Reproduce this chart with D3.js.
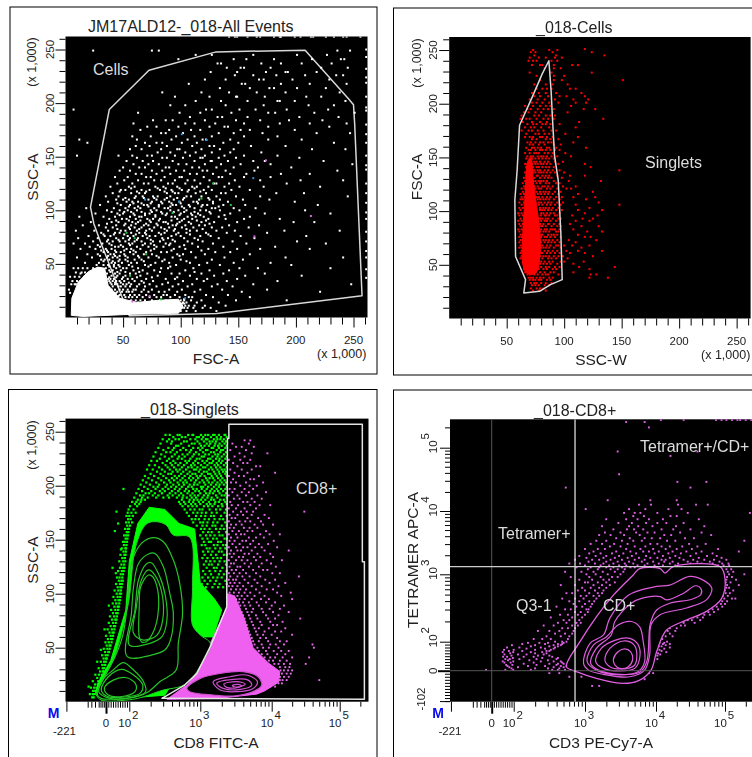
<!DOCTYPE html>
<html>
<head>
<meta charset="utf-8">
<script src="https://cdn.jsdelivr.net/npm/d3@7"></script>
<style>
  html, body { margin: 0; background: #fff; }
  svg { display: block; filter: blur(0.3px); }
  text { font-family: "Liberation Sans", Arial, sans-serif; fill: #222; }
</style>
</head>
<body>
<svg id="chart" width="752" height="757"></svg>
<script>
// tick labels
const linearLabels = [50, 100, 150, 200, 250];
const decadeLabels = [2, 3, 4, 5];

// gates, in axis units (thousands, or decades on the log panels)
const cellsGate = [[38,194],[72.5,230.6],[130.7,247.8],[208,249.4],[245.8,203.8],[250,198.4],[251,181],[257.4,20.3],[131.3,3.8],[55.4,1.6],[29.9,71.9],[24.6,87.5],[21.7,103]];
const singletsGate = [[86.7,240],[88.7,210.8],[89.6,190.7],[91.6,152],[94.8,128.9],[97.1,79.4],[98.3,36.2],[88.1,31.5],[78.6,25.3],[64.9,23.8],[66.4,36.2],[57.7,57.8],[57.1,110.4],[59.1,138.2],[61.2,179.9],[72.2,206.2],[80.9,227.8]];
const cd8Gate = [[3.4,256.8],[5.33,256.8],[5.33,129.6],[5.36,129.6],[5.36,2.2],[2.46,3.1],[2.78,15.4],[2.95,26],[3.14,51],[3.37,87.7],[3.38,243.8],[3.4,243.8]];
const tetramerLine = 3.12, cd3Line = 2.86;

// solid areas where the dots merge
const allEventsSolid = [[5,2],[5.5,18],[11,33],[20,43],[28,47],[34,46],[37,30],[47,18],[62,14],[80,16],[98,17],[102,10],[98,4],[58,3],[15,1]];
const cellsSolid = [[64.5,48],[64,80],[65.5,105],[66.5,125],[68,145],[71,150],[73,130],[76,105],[78.5,85],[79,60],[75,42],[68,42]];
const greenSolid = [[0.42,7],[0.58,18],[1.2,38],[1.85,85],[2,130],[2.12,165],[2.28,180],[2.5,178],[2.7,165],[2.92,160],[3,110],[3.2,95],[3.3,85],[3.18,60],[3,60],[2.5,6],[0.74,1.5]];
const pinkSolid = [[3.14,54],[3.37,87],[3.38,100],[3.48,98],[3.62,76],[3.74,50],[3.95,36],[4.12,28],[4.1,18],[3.9,10],[3.79,7],[3.23,3],[2.53,2.2],[2.81,15.4],[2.95,26],[3.04,38.5]];

// contours of the two lower panels
const greenOuter = [[0.49,6.2],[0.67,15.4],[1.31,38.6],[1.96,91],[2.09,143.5],[2.24,164.5],[2.38,166.7],[2.52,163.6],[2.62,154.3],[2.85,152.2],[2.89,106.5],[2.89,71],[3,61.7],[3.14,54],[3.02,35.5],[2.88,21.6],[2.74,14.5],[2.48,10.8],[2.2,4.6],[2.05,2.2],[0.74,1.5]];
const greenContours = [
  [[0.53,6.2],[0.81,20],[1.39,41.7],[1.74,63.3],[1.96,100.3],[2.03,128],[2.17,146.6],[2.34,151.9],[2.48,148.1],[2.62,131.2],[2.71,109.6],[2.75,81.8],[2.69,54],[2.66,29.3],[2.43,18.5],[2.27,9.3],[2.1,4.6],[0.74,3.1]],
  [[1.91,41.7],[2.03,81.8],[2.06,106.5],[2.13,128],[2.27,136.7],[2.36,137.3],[2.48,125],[2.57,100.3],[2.62,81.8],[2.58,57.1],[2.5,47.8],[2.31,43.2]],
  [[2,52.5],[2.08,84.9],[2.13,112.7],[2.24,127.5],[2.31,128.7],[2.43,115.7],[2.51,97.2],[2.53,75.6],[2.46,60.2],[2.29,54]],
  [[2.06,63.3],[2.1,88],[2.17,112.7],[2.27,122],[2.36,117.3],[2.46,100.3],[2.47,75.6],[2.39,61.7],[2.2,57.1]],
  [[2.14,60.2],[2.14,88],[2.16,106.5],[2.27,117.3],[2.33,115.7],[2.4,103.4],[2.41,84.9],[2.35,66.4],[2.24,55.6],[2.17,55.6]],
  [[0.6,9.3],[0.89,21.6],[1.31,29.3],[1.74,36.1],[2.06,29.3],[2.2,18.5],[2.23,9.3],[2.05,4],[1.17,3.1]],
  [[0.74,10.8],[1.1,23.1],[1.67,29.9],[2.06,24.7],[2.19,15.4],[2.15,7.7],[1.89,4.6],[1.1,4.6]],
  [[0.91,12.3],[1.31,20],[1.89,22.2],[2.09,16.4],[2.08,9.3],[1.6,4.6],[1.1,6.2]]
];
const pinkContours = [
  [[2.81,12.3],[3,21.6],[3.28,26.2],[3.6,27.8],[3.81,23.1],[3.86,15.4],[3.74,9.3],[3.46,5.2],[3.18,6.2],[2.85,9.3]],
  [[3.18,18.5],[3.42,23.1],[3.65,24.7],[3.8,18.5],[3.74,12.3],[3.51,9.3],[3.28,10.8]],
  [[3.23,17],[3.46,20.7],[3.67,20],[3.72,15.4],[3.56,11.4],[3.32,12.3]],
  [[3.33,16.4],[3.51,18.5],[3.63,16.4],[3.53,13.3],[3.37,13.3]],
  [[3.45,15],[3.53,16],[3.58,14.5],[3.49,13.6]]
];
const cd8Outer = [[2.74,1.14],[2.93,2],[3.16,2.37],[3.4,2.69],[3.68,2.99],[3.77,3.09],[4.06,3.09],[4.13,3.02],[4.25,3.12],[4.93,3.12],[5,2.94],[4.95,2.64],[4.73,2.45],[4.44,2.32],[4.15,2.17],[4.01,1.66],[3.93,1.02],[3.77,0.69],[3.54,0.58],[3.16,0.75],[2.88,0.97]];
const cd8Contours = [
  [[2.98,1.25],[3.07,1.94],[3.26,2.1],[3.35,2.35],[3.61,2.69],[4.01,2.82],[4.2,2.84],[4.49,2.97],[4.69,2.91],[4.81,2.79],[4.73,2.62],[4.44,2.5],[4.06,2.4],[3.93,2.25],[3.91,1.54],[3.84,1.02],[3.63,0.8],[3.26,0.88],[3.05,1.02]],
  [[3.03,1.31],[3.12,1.89],[3.3,2.07],[3.47,2.25],[3.65,2.3],[3.77,2.22],[3.82,2],[3.84,1.31],[3.75,0.97],[3.49,0.86],[3.16,1.02]],
  [[3.08,1.25],[3.16,1.77],[3.37,2.1],[3.42,2.3],[3.65,2.57],[3.82,2.65],[4.06,2.67],[4.15,2.62],[4.4,2.72],[4.57,2.83],[4.65,2.79],[4.65,2.7],[4.52,2.63],[4.2,2.57],[4.01,2.47],[3.92,2.27],[3.87,1.31],[3.77,0.95],[3.49,0.88],[3.19,1.02]],
  [[3.15,1.31],[3.23,1.77],[3.42,2.02],[3.63,2.05],[3.75,1.89],[3.77,1.43],[3.7,1.08],[3.49,0.99],[3.26,1.08]],
  [[3.28,1.37],[3.35,1.77],[3.54,2.01],[3.69,1.89],[3.73,1.48],[3.69,1.17],[3.49,1.06],[3.35,1.14]],
  [[3.4,1.4],[3.47,1.66],[3.56,1.75],[3.64,1.66],[3.67,1.37],[3.61,1.14],[3.49,1.08],[3.42,1.2]]
];

// events, one row per y value: [y, x, x, x...]
const allEventsRows = [
  [262,142,147,149,158,166,169,181,186,187,199,204,213,215,226,233,241,244,256],
  [249,24,75,81,236,247],[245,113,127,163,201,227],[241,98,146,157,181,214,239,242],
  [237,132,135,170,187,205,231],[233,140,152,155,178,222,245],[229,126,149,174,191,193,218],
  [226,147,163,183,208,235,241],[222,121,139,168,172,197,229],[218,107,153,156,187,212,244],
  [214,134,160,177,181,201,226],[210,84,118,142,166,191,238],[206,95,125,148,149,173,209,222],
  [202,113,135,158,184,186,199,243],[198,91,104,139,172,211,233],[194,7,122,127,151,165,192,228],
  [191,63,99,117,144,176,182,216,251],[187,108,132,136,158,203,237],[184,76,87,93,121,148,169,194,223],
  [181,59,104,112,130,155,186,212,244],[178,71,79,98,125,138,141,176,229],[175,65,90,109,117,152,160,199],
  [172,83,87,102,133,146,171,218,247],[169,58,74,96,112,127,155,184],[166,12,62,92,106,119,122,143,176,205],
  [163,19,69,79,84,101,114,137,150,233],[160,61,73,88,110,125,129,161,191],[157,56,66,83,97,99,118,134,146,214,243],
  [154,80,91,104,113,127,143,170],[151,10,46,58,71,75,95,108,121,138,155,184],[149,62,84,88,102,117,119,133,148,203],
  [146,53,67,76,93,112,126,127,141,163,173,224],[143,59,72,81,98,105,121,135,152,178,249],[140,50,64,69,87,90,110,116,131,146,167,196],
  [137,47,56,75,84,96,103,119,123,139,164,236],[134,61,66,79,91,108,114,128,143,157,187,212],
  [131,43,54,70,74,86,99,101,120,133,136,155,178],[128,51,63,77,83,95,106,112,125,147,169,204,241],
  [125,45,58,68,72,89,93,104,117,129,131,142,192],[122,39,55,60,78,85,97,110,114,124,138,151,172,221],
  [119,48,52,66,73,82,92,101,107,120,127,144,160],[116,41,57,64,69,88,95,98,113,122,135,139,183,207],
  [113,35,46,61,67,76,80,91,105,109,118,131,148,169,245],[110,44,50,55,72,79,86,94,102,116,125,134,154,177],
  [108,37,53,58,63,75,83,90,99,111,114,128,141,199],[105,30,48,56,68,71,81,93,96,107,119,123,137,156,219],
  [102,18,42,52,60,65,77,86,89,103,112,127,130,146,165],[100,36,47,54,62,74,79,91,98,105,117,122,134,151,208],
  [97,26,45,50,59,69,73,84,88,100,109,115,126,143,173,230],[94,12,33,43,56,64,66,78,92,95,106,113,120,133,160],
  [92,38,49,53,61,71,76,82,97,103,110,124,139,155,186],[89,22,40,46,58,63,74,85,87,99,107,118,129,149,198,216],
  [86,15,29,44,51,57,68,72,80,93,96,104,116,121,142,168],[84,35,41,55,60,66,77,83,90,101,111,127,136,159],
  [81,9,25,37,48,52,62,70,75,88,94,108,114,131,147,190,238],[79,31,43,47,57,64,69,81,86,98,105,122,140,175],
  [76,20,34,39,54,59,67,73,78,92,100,117,126,152,209],[74,11,28,44,50,56,63,71,84,89,103,112,133,164],
  [71,24,36,41,47,52,60,66,76,82,95,106,119,145,201],[69,7,17,32,38,55,58,69,74,87,91,110,128,157,226],
  [66,21,30,43,46,50,62,72,79,85,99,115,137,182],[64,13,26,35,40,53,57,65,77,94,104,124,149,169,212],
  [61,33,37,44,48,56,61,70,83,88,109,130,143],[59,19,28,39,42,51,59,68,75,97,102,121,160],
  [56,10,23,36,41,45,54,64,72,81,93,113,138,191,241],[54,31,34,38,47,52,60,66,86,100,127,154],
  [51,17,29,40,43,49,57,62,78,90,108,123,146,178],[49,27,33,37,42,46,55,69,74,96,116,134,196],
  [46,15,24,30,35,44,50,53,63,83,89,111,151,167,230],[44,26,32,38,41,48,59,67,77,104,125,142],
  [41,13,22,28,36,43,47,56,61,71,92,99,118,137,173],[39,20,31,34,40,45,52,65,80,108,129,156,205],
  [36,37,39,42,49,54,58,70,87,95,114,123,149],[34,38,41,44,47,51,60,66,76,102,120,140,184],
  [31,40,43,45,50,53,57,64,73,84,98,110,132,163,248],[29,41,46,48,52,56,62,69,79,93,106,127,145],
  [26,43,47,50,54,59,61,68,75,90,101,117,136,175],[24,45,49,53,55,58,66,72,81,86,97,112,153,221],
  [21,47,51,56,60,64,70,77,85,88,95,104,122,141],[19,52,55,58,62,67,73,79,83,91,99,107,110,128,160],
  [16,48,57,61,65,69,75,82,87,94,100,103,109,118,148,192],[14,54,59,63,68,72,78,84,90,96,102,105,114,133],
  [11,99,101,104,107,112,121,139],[9,98,103,106,111,119,126],[6,100,105,113,131],
  [46,7,11,19],[42,9,14,17],[38,4,8,12,16],[34,6,10,13,15,19,22],[31,5,8,9,12,17,21],[29,13,15,24,30,33],
  [26,3,35,38,40],[23,4,37,39,42,44],[20,40,43,46],[17,42,45,47,103],[13,47,50,101,103],[9,53,101],
  // second pass over the thick of the cloud
  [120.5,57,80,87,99,112],[117.5,47,62,70,86,93,106,117],[111.5,52,60,68,77,88,97,103,124],[106.5,45,59,66,74,84,92,100,115,128],
  [103.5,55,63,72,81,91,101,108,118,133],[98.5,40,51,57,66,75,83,94,103,112,125],[95.5,47,60,69,78,87,99,110,117,138],
  [90.5,44,55,65,73,81,92,101,114,122],[87.5,36,52,61,70,79,89,97,109,125],[82.5,45,56,64,73,86,95,105,119],
  [77.5,33,42,51,61,70,83,96,108,124],[72.5,37,46,55,62,74,85,93,115],[67.5,28,40,48,56,67,77,90,103],[62.5,31,36,43,51,59,74,92,118],
  [57.5,30,37,43,47,52,63,79,99],[52.5,33,41,46,54,68,84,105],[47.5,38,42,47,58,72,91],[42.5,39,45,52,64,82,112],[37.5,38,44,50,62,75,97],[32.5,39,43,48,55,68,89]
];
const allEventsEdge = [250,243,232,224,219,206,196,193,180,171,163,151,142,138,125,116,107,98,92,80,71,62,56,45,37];
const allEventsBlue = [[69,110],[101,171],[122.6,165.6],[163,130],[98.5,108],[103.8,18]];
const allEventsGreen = [[53,79],[60,74],[70,59],[56,39],[93,97.5],[118,111],[128,125],[143.5,105],[83,17]];
const allEventsPink = [[174,146.6],[213,94.7],[164,75.6],[58,15],[73,20]];

const cellsRows = [
  [251,118],[250,73,87,94],[248,71,75,90,124],[245,74,93,135],[243,70,78,84,92,98],[240,69,73,76,89,94],
  [236,72,79,81,91,107,112],[233,83,91,97],[229,70,89,124],[226,76,91,100],[222,79,91,151,98],
  [218,74,84,90,103],[214,76,81,85,89,105,110],[210,72,78,84,93,115],[207,74,79,86,96,102,118],
  [204,70,77,83,92,108,121],[201,72,76,81,87,95,110,119],[198,66,73,79,84,88,106],[195,68,71,77,82,86,91,117,127],
  [192,65,69,75,80,90,103],[189,63,74,78,84,88,92],[186,62,67,70,76,82,86,91,134],[183,64,72,79,85,113],
  [181,68,73,76,81,84,88,96],[178,66,71,74,80,87,110],[175,63,69,72,77,82,89,93],[172,67,75,78,83,87,101],
  [169,66,70,73,79,81,85,90,112],[167,72,76,84,88,95],[164,68,71,75,79,82,86,89,108],[162,70,73,78,83,91,97],
  [159,67,72,74,77,80,85,87,93,119],[157,69,71,75,79,81,84,88,92,96],[154,66,70,74,76,78,83,86,90,101],
  [151,68,71,73,77,80,82,85,89,94,106],[149,67,70,72,75,78,81,84,87,91],[146,69,71,74,76,79,83,86,92,99],
  [144,66,68,72,75,77,80,82,85,88,95,118],[141,67,70,73,76,78,81,84,87,91,123],[138,68,71,72,74,77,79,83,86,90,96,148],
  [136,66,69,73,75,78,80,82,85,88,92,100],[133,67,70,72,76,77,81,84,87,94,105,118],[131,65,68,71,74,79,83,86,89,98],
  [128,66,70,73,75,78,80,82,85,91,104,132],[126,64,67,69,72,76,79,84,87,93,96],[123,65,68,74,77,81,83,86,90,99,110],
  [121,63,66,75,78,80,85,88,94,102,106],[118,64,67,76,79,82,84,87,92,97,125],[116,62,65,77,80,83,86,90,95,112],
  [113,63,66,76,78,81,85,88,93,98,108,127],[111,62,64,77,79,82,84,87,91,96,119],[108,61,65,78,80,83,86,89,94,99,130],
  [106,63,78,81,85,88,92,97,110,148],[103,61,64,79,82,84,87,90,95,122],[101,62,79,81,83,86,89,93,98,112,133],
  [98,60,63,80,82,85,88,91,96,118],[96,61,64,80,83,84,87,92,94,107,129],[93,62,79,81,84,86,90,95,97,116,125],
  [91,60,63,80,83,85,88,93,110,122],[88,61,64,79,82,86,87,91,96,105],[86,62,80,81,84,89,94,97,115,130],
  [83,60,63,80,83,85,88,90,92,96,108],[81,61,79,82,84,87,93,95,120,133],[78,62,64,80,81,86,89,91,94,112],
  [76,61,63,80,83,85,88,92,97,118,123],[73,62,79,82,84,87,90,94,104,128],[71,61,64,80,83,86,89,92,96,110],
  [68,62,79,81,85,88,93,95,100,107,122],[66,61,63,80,82,84,87,91,97,115],[63,63,64,79,83,86,90,94,102,112,133],
  [61,62,80,81,85,88,92,96,105,118],[58,63,65,79,82,84,87,91,95,99,125],[56,62,64,78,81,86,89,93,103],
  [53,64,66,78,80,83,87,90,97,100,117],[51,65,76,79,82,85,88,94,108],[48,66,68,77,80,84,87,92,96,113,144],
  [46,65,67,76,78,82,85,90,93,122],[43,66,69,72,75,79,83,88,91,108],[41,68,70,74,77,81,84,86,95,123,128],
  [38,69,71,73,76,79,82,87,90,122,138],[36,70,73,75,78,80,85,88],[33,71,74,76,80,84,89],[31,72,75,78,83,87],[28,71,76,79,82],[26,73,78,84]
];

const greenRows = [
  [247,2.51,2.57,2.68,2.71,2.83,2.89,2.9,3.01,3.07,3.11,3.18,3.2,3.26,3.34,3.35],
  [245,2.62,2.74,2.79,2.95,2.98,3.04,3.15,3.23,3.29,3.37],
  [243,2.47,2.56,2.65,2.7,2.86,2.93,3.02,3.08,3.1,3.19,3.24,3.28,3.33],
  [241,2.53,2.6,2.77,2.81,2.96,3.05,3.13,3.17,3.22,3.31,3.36],
  [239,2.44,2.59,2.73,2.88,2.92,2.99,3.09,3.14,3.21,3.27,3.34],
  [237,2.66,2.69,2.84,3.01,3.06,3.12,3.2,3.25,3.3,3.37],
  [235,2.41,2.55,2.63,2.76,2.9,2.97,3.03,3.16,3.18,3.26,3.35],
  [233,2.48,2.61,2.72,2.8,2.87,3,3.08,3.1,3.23,3.29,3.32],
  [231,2.37,2.52,2.58,2.67,2.85,2.94,3.04,3.15,3.19,3.28,3.36],
  [229,2.45,2.64,2.75,2.82,2.91,2.98,3.07,3.12,3.21,3.25,3.33],
  [227,2.34,2.5,2.6,2.7,2.78,2.89,3.02,3.05,3.17,3.24,3.3,3.37],
  [225,2.43,2.56,2.68,2.74,2.86,2.95,2.99,3.11,3.14,3.22,3.27,3.35],
  [223,2.31,2.39,2.53,2.62,2.79,2.84,2.93,3.03,3.09,3.18,3.26,3.31],
  [221,2.47,2.58,2.65,2.72,2.81,2.9,2.97,3.06,3.13,3.16,3.23,3.29,3.36],
  [219,2.28,2.36,2.51,2.6,2.69,2.77,2.87,2.92,3.01,3.1,3.2,3.25,3.33],
  [217,2.42,2.54,2.63,2.74,2.83,2.88,2.96,3.04,3.07,3.15,3.22,3.28,3.37],
  [215,2.25,2.33,2.46,2.57,2.66,2.71,2.8,2.91,2.94,3,3.12,3.17,3.24,3.3,3.34],
  [213,2.39,2.5,2.61,2.68,2.76,2.85,2.98,3.05,3.09,3.19,3.26,3.32,3.36],
  [211,2.3,2.44,2.55,2.59,2.73,2.82,2.89,2.93,3.02,3.11,3.14,3.21,3.27,3.35],
  [209,2.22,2.35,2.48,2.64,2.7,2.78,2.86,2.95,3,3.06,3.16,3.23,3.29,3.37],
  [207,2.27,2.41,2.52,2.6,2.67,2.75,2.84,2.9,2.97,3.08,3.13,3.18,3.25,3.31],
  [205,2.19,2.32,2.45,2.56,2.63,2.72,2.79,2.87,2.94,3.03,3.1,3.2,3.28,3.34],
  [203,2.24,2.38,2.49,2.58,2.68,2.76,2.81,2.92,2.99,3.05,3.12,3.17,3.24,3.3,3.36],
  [201,2.16,2.29,2.42,2.53,2.62,2.7,2.77,2.85,2.91,2.96,3.07,3.15,3.22,3.27,3.33],
  [199,2.21,2.34,2.4,2.51,2.59,2.66,2.74,2.83,2.88,3.01,3.04,3.11,3.19,3.26,3.37],
  [197,2.13,2.26,2.37,2.47,2.55,2.64,2.71,2.8,2.9,2.95,3.02,3.09,3.16,3.23,3.29,3.35],
  [195,2.18,2.31,2.43,2.5,2.6,2.69,2.78,2.84,2.93,2.98,3.06,3.14,3.2,3.25,3.32],
  [193,2.1,2.23,2.28,2.36,2.46,2.57,2.65,2.73,2.82,2.89,3,3.08,3.13,3.18,3.27,3.36],
  [191,2.15,2.2,2.33,2.41,2.54,2.61,2.7,2.76,2.86,2.92,2.97,3.05,3.11,3.22,3.3,3.34],
  [189,2.07,2.18,2.26,2.38,2.48,2.56,2.67,2.75,2.81,2.88,2.94,3.03,3.1,3.16,3.24,3.37],
  [187,2.12,2.17,2.22,2.74,2.85,2.91,2.96,3.01,3.07,3.15,3.19,3.28,3.33],
  [185,2.04,2.1,2.16,2.7,2.77,2.84,2.9,2.98,3.04,3.12,3.21,3.26,3.35],
  [183,2.08,2.14,2.72,2.79,2.87,2.93,3,3.09,3.14,3.2,3.3,3.37],
  [181,2.01,2.11,2.75,2.83,2.89,2.95,3.05,3.11,3.17,3.25,3.31],
  [178,1.97,2.06,2.78,2.86,2.92,2.99,3.03,3.13,3.22,3.28,3.36],
  [175,1.93,2.03,2.09,2.81,2.9,2.96,3.02,3.08,3.16,3.23,3.34],
  [172,1.88,2,2.05,2.84,2.94,3.01,3.07,3.15,3.19,3.29,3.37],
  [169,1.95,2.02,2.88,2.93,2.98,3.06,3.12,3.2,3.27,3.32],
  [166,1.86,1.98,2.04,2.9,3,3.04,3.1,3.18,3.24,3.35],
  [163,1.91,2.01,2.95,3.03,3.09,3.17,3.21,3.3,3.37],
  [160,1.82,1.94,1.99,3.01,3.06,3.13,3.22,3.28,3.33],
  [157,1.89,1.96,3.04,3.11,3.16,3.26,3.36],
  [154,1.78,1.87,1.95,3,3.08,3.14,3.2,3.27,3.31],
  [151,1.84,1.92,3.03,3.1,3.18,3.23,3.34,3.37],
  [148,1.73,1.8,1.9,3.05,3.12,3.15,3.25,3.29],
  [145,1.77,1.88,3.02,3.07,3.19,3.24,3.32,3.36],
  [142,1.68,1.83,1.86,3.09,3.13,3.21,3.28,3.35],
  [139,1.75,1.85,3.04,3.11,3.17,3.26,3.3],
  [136,1.62,1.79,1.84,3.06,3.15,3.22,3.33,3.37],
  [133,1.7,1.81,3.03,3.1,3.18,3.24,3.29],
  [130,1.57,1.74,1.83,3.08,3.14,3.2,3.27,3.34],
  [127,1.66,1.78,3.05,3.12,3.16,3.25,3.36],
  [124,1.6,1.72,1.8,3.09,3.19,3.23,3.31],
  [121,1.52,1.68,1.76,3.04,3.13,3.21,3.28,3.37],
  [118,1.63,1.73,3.07,3.15,3.26,3.33],
  [115,1.47,1.58,1.7,3.03,3.11,3.18,3.24,3.3],
  [112,1.55,1.66,1.72,3.06,3.14,3.22,3.35],
  [109,1.43,1.6,1.69,3.02,3.1,3.2,3.27,3.37],
  [106,1.5,1.62,1.67,3.08,3.17,3.25,3.32],
  [103,1.37,1.53,1.64],[100,1.46,1.59,1.65],[97,1.32,1.5,1.61],[94,1.4,1.54,1.6],[91,1.29,1.44,1.57],
  [88,1.36,1.5,1.55],[85,1.22,1.4,1.52],[82,1.3,1.44,1.5],[79,1.17,1.35,1.47],[76,1.26,1.4,1.45],
  [73,1.12,1.3,1.42],[70,1.2,1.34,1.39],[67,1.07,1.25,1.36],[64,1.15,1.28,1.33],[61,1,1.2,1.3],
  [58,1.08,1.22,1.27],[55,0.97,1.12,1.24],[52,1.03,1.15,1.2],[49,0.88,1.06,1.16],[46,0.95,1.1,1.13],
  [43,0.79,0.98,1.07],[40,0.87,1,1.04],[37,0.72,0.9,0.99],[34,0.8,0.93,0.96],[31,0.6,0.82,0.9],
  [28,0.68,0.84,0.87],[25,0.42,0.62,0.78],[22,0.52,0.72,0.76],[19,0.28,0.58,0.66],[16,0.4,0.55,0.6],
  [13,0.18,0.36,0.5],[10,0.3,0.42,0.45],[7,0.12,0.28,0.36],[4,0.25,0.33],
  [197,1.75],[176,1.45],[165,1.52],[158,1.38],[141,1.64],[124,1.28],[119,1.42],[89,1.12],[67,0.92],[48,0.72],[37,0.52],[14,0.05]
];
const pinkRows = [
  [242,3.62,3.7],[239,3.45,3.68],[236,3.5,3.58,3.75],[233,3.42,3.64],[230,3.55,3.72,3.94],[227,3.48,3.62],
  [224,3.4,3.56,3.7],[221,3.46,3.6,3.66],[218,3.52,3.78,3.84],[215,3.42,3.58,3.72],[212,3.48,3.66,4.05],
  [209,3.4,3.54,3.61,3.82],[206,3.46,3.7,3.75],[203,3.43,3.5,3.64,3.88],[200,3.56,3.69,3.79],[197,3.41,3.48,3.62,3.74],
  [194,3.45,3.58,3.68,3.92],[191,3.4,3.52,3.64,3.8],[188,3.47,3.55,3.72,3.86],[185,3.42,3.6,3.66,3.76],
  [182,3.44,3.53,3.7,3.83,3.98],[179,3.4,3.5,3.62,3.78],[176,3.46,3.57,3.65,3.74,4.48],[173,3.41,3.52,3.6,3.72,3.9],
  [170,3.44,3.49,3.66,3.81,3.96],[167,3.4,3.55,3.63,3.7,3.85],[164,3.43,3.5,3.58,3.76,3.88,4.02],[161,3.41,3.47,3.61,3.69,3.8],
  [158,3.45,3.54,3.66,3.73,3.92],[155,3.4,3.5,3.57,3.62,3.84,3.97,4.12],[152,3.43,3.52,3.68,3.78,3.89],
  [149,3.41,3.48,3.59,3.64,3.74,4.03],[146,3.45,3.55,3.7,3.82,3.95],[143,3.4,3.5,3.6,3.66,3.77,3.86,4.08],
  [140,3.43,3.52,3.57,3.72,3.9,4.25],[137,3.41,3.47,3.62,3.68,3.8,3.98],[134,3.44,3.54,3.6,3.75,3.84,4.02],
  [131,3.4,3.5,3.58,3.66,3.78,3.93,4.15],[128,3.43,3.47,3.62,3.71,3.86,3.99],[125,3.41,3.52,3.56,3.68,3.82,4.06],
  [122,3.44,3.5,3.6,3.74,3.88,3.94],[119,3.4,3.47,3.55,3.64,3.78,4.01,4.12],[116,3.42,3.52,3.59,3.69,3.84,4.4],
  [113,3.4,3.46,3.5,3.62,3.76,3.91,4.05],[110,3.42,3.48,3.55,3.67,3.8,3.97,4.2],[107,3.4,3.45,3.52,3.6,3.72,3.86,4.1],
  [104,3.43,3.5,3.56,3.64,3.78,3.93,4.02],[101,3.41,3.47,3.54,3.62,3.7,3.83,4.08,4.28],[98,3.52,3.58,3.66,3.76,3.9,4.14],
  [95,3.5,3.55,3.62,3.72,3.85,3.96,4.3],[92,3.54,3.6,3.68,3.79,3.92,4.05],[89,3.56,3.62,3.7,3.82,4,4.18],
  [86,3.55,3.64,3.74,3.86,3.97,4.12],[83,3.58,3.66,3.72,3.88,4.02,4.25],[80,3.6,3.68,3.78,3.92,4.1],
  [77,3.62,3.7,3.8,3.95,4.05,4.42],[74,3.63,3.72,3.84,3.98,4.16],[71,3.65,3.74,3.86,4.02,4.08],
  [68,3.66,3.76,3.82,3.96,4.2],[65,3.68,3.78,3.9,4.05,4.14],[62,3.7,3.8,3.88,4,4.3],[59,3.72,3.84,3.92,4.08],
  [56,3.74,3.82,3.95,4.12,4.22],[53,3.76,3.86,3.98,4.06,4.18,4.6],[50,3.8,3.88,3.96,4.1,4.62],[47,3.82,3.92,4.03,4.14,4.25],
  [44,3.86,3.94,4.08,4.2],[41,3.9,3.98,4.05,4.16,4.3,4.55],[38,3.96,4.02,4.12,4.22],[35,4.04,4.1,4.18,4.27,4.5],
  [32,4.12,4.2,4.26],[29,4.13,4.18,4.24,4.3],[26,4.15,4.22,4.28],[23,4.12,4.18,4.25],[20,4.12,4.16,4.22,4.7],[17,4.04,4.1,4.15],[14,3.98,4.05]
];

const cd8Rows = [
  [5.41,4.07,4.4,4.87,4.95,5.02,5.1,5.18,5.22,5.3,5.38],[5.38,3.58,3.84],[5.3,3.9],[4.94,3.46,4.6],[4.87,4.21],
  [4.58,3.48],[4.46,4.31,4.73],[4.37,2.73,4.5],[4.17,3.32,3.92,4.3],[4.1,3.76,3.93,4.32,4.58,4.75],
  [4.03,3.01,3.62,3.85,4.18,4.37],[3.97,3.55,3.7,3.78,4.02,4.46,5.36],[3.92,3.68,3.83,4.21,4.3],
  [3.87,3.3,3.58,3.74,3.9,4.1,4.62],[3.81,3.47,3.66,3.86,4.02,4.15,4.4],[3.76,3.24,3.62,3.75,3.95,4.29,4.7],
  [3.71,3.4,3.59,3.69,3.82,4.08,4.25,4.5],[3.66,3.28,3.5,3.72,3.88,3.98,4.35,4.66],[3.62,3.2,3.36,3.55,3.77,4.12,4.22,4.8],
  [3.57,3.44,3.63,3.84,3.94,4.06,4.42,4.55],[3.53,3.16,3.3,3.52,3.68,3.8,4.16,4.28,5.28],[3.48,3.08,3.24,3.41,3.6,3.92,4.02,4.48,4.72],
  [3.44,3.35,3.5,3.7,3.85,4.08,4.2,4.38,4.6],[3.4,3,3.18,3.28,3.58,3.78,3.96,4.14,4.3,4.52,4.9],
  [3.36,3.12,3.44,3.64,3.82,3.9,4.04,4.24,4.44,4.66,5.2],[3.33,3.06,3.22,3.38,3.54,3.72,3.98,4.18,4.36,4.58,4.82],
  [3.29,2.92,3.15,3.3,3.48,3.66,3.86,4.1,4.28,4.5,4.74,4.88],[3.26,3.02,3.26,3.42,3.6,3.76,3.92,4.02,4.2,4.34,4.62,4.95],
  [3.23,2.86,3.1,3.2,3.36,3.52,3.7,3.84,4.08,4.14,4.4,4.54,4.7,4.84,5.02],[3.2,3.05,3.3,3.46,3.62,3.8,3.96,4.12,4.24,4.46,4.6,4.78,4.92],
  [3.17,2.78,2.93,3.14,3.26,3.4,3.56,3.68,3.88,4.04,4.2,4.32,4.5,4.66,4.82,4.96,5.05],
  [3.14,3,3.22,3.34,3.48,3.58,3.74,3.84,3.98,4.1,4.28,4.38,4.44,4.56,4.68,4.76,4.86,4.9,4.98,5.06],
  [3.11,2.88,3.08,3.2,3.3,3.4,3.52,3.64,3.7],[3.08,3.04,3.18,3.36,3.46,3.56,5.02,5.09],[3.04,2.72,2.95,3.12,3.25,3.42,3.54,5.04,5.12],
  [3,3.02,3.15,3.32,3.5,5.06,5.28],[2.96,2.8,3.06,3.22,3.38,3.46,5.03,5.1],[2.92,2.92,3.1,3.26,3.34,5.02,5.16],
  [2.88,3,3.04,3.18,3.3,3.42,5.01,5.08],[2.84,2.66,2.86,3.12,3.24,3.35,5.03,5.2],[2.8,2.96,3.08,3.2,3.3,5.02,5.06],
  [2.76,2.9,3,3.14,3.26,5,5.12],[2.72,2.74,2.82,3.06,3.18,3.24,5.01,5.07],[2.68,2.94,3.02,3.12,3.2,4.97,5.04],
  [2.64,2.68,2.86,2.98,3.16,4.99,5.1,5.15],[2.6,2.78,2.92,3.06,3.13,4.96,5.03],[2.56,2.84,3,3.1,4.94,5],
  [2.52,2.6,2.88,2.96,3.08,4.88,4.96],[2.48,2.72,2.8,3.02,3.05,4.82,4.9],[2.44,2.86,2.94,3.04,4.76,4.84],
  [2.4,2.65,2.76,2.9,3,4.62,4.7,4.78],[2.36,2.52,2.82,2.96,4.54,4.6,4.68],[2.32,2.7,2.78,2.92,4.46,4.52,4.64],
  [2.28,2.62,2.74,2.88,2.94,4.32,4.4,4.56],[2.24,2.42,2.56,2.82,2.9,4.24,4.36,4.42],[2.2,2.68,2.76,2.86,4.2,4.3],
  [2.16,2.34,2.5,2.64,2.84,4.12,4.17,4.28],[2.12,2.58,2.72,2.82,4.08,4.2],[2.08,2.46,2.66,2.78,4.05,4.14,4.24],
  [2.04,2.28,2.4,2.52,2.76,4.02,4.09],[2,2.58,2.68,2.74,4.01,4.16],[1.96,2.2,2.36,2.48,2.7,3.99,4.05,4.12],
  [1.92,2.12,2.44,2.62,2.68,4.02,4.1,4.2],[1.88,1.92,2.3,2.56,2.66,3.98,4.14],[1.84,2.24,2.5,2.62,4.04,4.08],
  [1.8,1.7,2.08,2.38,2.58,4,4.2],[1.76,2.18,2.44,2.56,3.98,4.12],[1.72,1.56,2,2.3,2.52,4.05],[1.68,1.78,2.12,2.46,2.5,3.97,4.08],
  [1.64,1.5,1.98,2.24,2.4,3.98,4.15],[1.6,1.84,2.3,2.46,4.03],[1.56,1.58,2.06,2.18,2.42,3.97,4.06],[1.52,1.9,2.34,2.5,4.02],
  [1.48,1.52,1.7,2.14,2.28,2.54,3.96],[1.44,1.96,2.4,2.62],[1.4,1.62,1.82,2.08,2.32,2.6,3.94,4.02],[1.36,1.74,2.22,2.48],
  [1.32,1.5,1.98,2.38,2.56,2.66],[1.28,1.58,1.86,2.28,2.68],[1.24,2.14,2.5,2.62,2.7],[1.2,1.66,1.94,2.32,2.6],
  [1.16,1.72,2.2,2.44,2.66,2.74],[1.12,1.8,2.06,2.56,2.7],[1.08,1.9,2.3,2.48,2.64],[1.03,0.7,1.62,1.98,2.24,2.54,2.62,2.72],
  [0.92,2.5,2.64,3.9,3.96],[0.8,2.78,2.95],[0.72,3.84],[0.65,3.42,3.62,3.7],[0.5,3.1,3.2]
];

// pixel layout of each axis
const linearX1 = [65.5, 367.5], linearY1 = [317.5, 36.5];
const linearX2 = [449.2, 750.6], linearY2 = [318.5, 37];
const linearY3 = [701.7, 418.6];
const logDomain = [-1.21, 1, 2, 3, 4, 5, 5.42];
const logX3 = [65.5, 106, 129.3, 200.3, 271.7, 339.7, 368.5];
const logX4 = [450, 491.7, 513.7, 585, 656, 725, 754];
const logYDomain = [-0.02, 1, 2, 3, 4, 5, 5.42];
const logY4 = [701.7, 670.7, 641.7, 574.3, 511, 447.7, 419.3];

const svg = d3.select("#chart");
const flatten = rows => rows.flatMap(([y, ...xs]) => xs.map(x => [x, y]));

function panel(name, frame, x, y) {
  const g = svg.append("g").attr("class", name);
  g.append("rect").attr("x", frame[0]).attr("y", frame[1]).attr("width", frame[2]).attr("height", frame[3])
    .attr("fill", "#fff").attr("stroke", "#000").attr("stroke-width", 1);
  const xr = d3.extent(x.range()), yr = d3.extent(y.range());
  g.append("clipPath").attr("id", "clip-" + name).append("rect")
    .attr("x", xr[0]).attr("y", yr[0]).attr("width", xr[1] - xr[0]).attr("height", yr[1] - yr[0]);
  g.append("rect").attr("x", xr[0]).attr("y", yr[0]).attr("width", xr[1] - xr[0]).attr("height", yr[1] - yr[0]).attr("fill", "#000");
  const marks = g.append("g").attr("clip-path", "url(#clip-" + name + ")");
  return { g, marks, x, y, bottom: yr[1], left: xr[0] };
}

function dots(p, data, color, size) {
  p.marks.append("g").selectAll("rect").data(data).enter().append("rect")
    .attr("x", d => p.x(d[0]) - size / 2)
    .attr("y", d => p.y(d[1]) - size / 2)
    .attr("width", size).attr("height", size)
    .attr("fill", color);
}

function shape(p, data, fill, stroke, width, curve) {
  const line = d3.line().x(d => p.x(d[0])).y(d => p.y(d[1])).curve(curve || d3.curveLinearClosed);
  p.marks.append("path").attr("d", line(data)).attr("fill", fill)
    .attr("stroke", stroke).attr("stroke-width", width).attr("stroke-linejoin", "round");
}

function tickSet(p, axisFn, translate, values, size) {
  const a = p.g.append("g").attr("transform", translate)
    .call(axisFn.tickValues(values).tickSize(size).tickFormat(""));
  a.select(".domain").remove();
  a.selectAll("line").attr("stroke", "#000");
  return a;
}

function label(g, text, x, y, size, opts) {
  opts = opts || {};
  const t = g.append("text").attr("font-size", size).text(text)
    .attr("text-anchor", opts.anchor || "start");
  if (opts.rotate) t.attr("transform", "translate(" + x + "," + y + ") rotate(-90)");
  else t.attr("x", x).attr("y", y);
  if (opts.fill) t.style("fill", opts.fill);
  return t;
}

function linearAxes(p) {
  const every10 = d3.range(10, 262, 10).filter(v => v % 50 !== 0);
  tickSet(p, d3.axisBottom(p.x), "translate(0," + p.bottom + ")", every10, 7);
  tickSet(p, d3.axisLeft(p.y), "translate(" + p.left + ",0)", every10, 6);
  tickSet(p, d3.axisLeft(p.y), "translate(" + p.left + ",0)", linearLabels, 10);
}

function linearXLabels(p) {
  tickSet(p, d3.axisBottom(p.x), "translate(0," + p.bottom + ")", linearLabels, 10);
  linearLabels.forEach(v => label(p.g, v, p.x(v), p.bottom + 26, 11.5, { anchor: "middle" }));
}

function linearYLabels(p) {
  linearLabels.forEach(v => label(p.g, v, p.left - 12, p.y(v), 11.5, { anchor: "middle", rotate: true }));
}

// decades above 100, linear below it (0 sits at 1, 100 at 2)
const minorDecades = d3.range(2, 6).flatMap(k => [2, 3, 4, 5, 6, 7, 8, 9].map(m => k + Math.log10(m))).filter(d => d < 5.42);
const nearZeroX = [-100, -80, -60, -40, -30, -20, -10, 10, 20, 30, 40, 50, 60, 70, 80, 90].map(v => 1 + v / 100);
const nearZeroY = d3.range(-100, 100, 10).filter(v => v !== 0).map(v => 1 + v / 100);

function logXAxis(p, minus) {
  const bottom = "translate(0," + p.bottom + ")";
  tickSet(p, d3.axisBottom(p.x), bottom, minorDecades, 5);
  tickSet(p, d3.axisBottom(p.x), bottom, nearZeroX, 6);
  tickSet(p, d3.axisBottom(p.x), bottom, [p.x.domain()[0] + 0.05, 2, 3, 4, 5], 10);
  tickSet(p, d3.axisBottom(p.x), bottom, [1], 12).selectAll("line").attr("stroke-width", 2);
  decadeLabels.forEach(k => {
    const t = label(p.g, "10", p.x(k) - 11, p.bottom + 25, 11.5);
    t.append("tspan").attr("dy", -8).attr("dx", 1).text(k);
  });
  label(p.g, "0", p.x(1), p.bottom + 25, 11.5, { anchor: "middle" });
  label(p.g, "-221", p.x.range()[0] + minus, p.bottom + 33.5, 11.5, { anchor: "middle" });
  label(p.g, "M", p.x.range()[0] - 12, p.bottom + 16, 14, { anchor: "middle", fill: "#0a0aee" }).attr("font-weight", "bold");
}

// top left panel
const x1 = d3.scaleLinear().domain([0, 262.144]).range(linearX1);
const y1 = d3.scaleLinear().domain([0, 262.144]).range(linearY1);
const p1 = panel("events", [10, 7, 367, 367], x1, y1);
shape(p1, cellsGate, "none", "#d8d8d8", 1.5);
dots(p1, flatten(allEventsRows), "#fff", 2);
dots(p1, allEventsEdge.map(v => [261, v]), "#fff", 2);
shape(p1, allEventsSolid, "#fff", "#fff", 1);
dots(p1, allEventsBlue, "#2a8fd0", 2);
dots(p1, allEventsGreen, "#22c040", 2);
dots(p1, allEventsPink, "#e060e8", 2);
linearAxes(p1);
linearXLabels(p1);
linearYLabels(p1);
label(p1.g, "JM17ALD12-_018-All Events", 88, 32, 16);
label(p1.g, "Cells", 93, 75, 16, { fill: "#ddd" });
label(p1.g, "FSC-A", 216, 364, 15.5, { anchor: "middle" });
label(p1.g, "SSC-A", 38, 177, 15.5, { anchor: "middle", rotate: true });
label(p1.g, "(x 1,000)", 317, 358, 12.5);
label(p1.g, "(x 1,000)", 36, 62, 12.5, { anchor: "middle", rotate: true });

// top right panel
const x2 = d3.scaleLinear().domain([0, 262.144]).range(linearX2);
const y2 = d3.scaleLinear().domain([0, 262.144]).range(linearY2);
const p2 = panel("cells", [393.5, 8, 380, 367], x2, y2);
dots(p2, flatten(cellsRows), "#ff0000", 2);
shape(p2, cellsSolid, "#ff0000", "#ff0000", 1, d3.curveCatmullRomClosed);
shape(p2, singletsGate, "none", "#d8d8d8", 1.5);
linearAxes(p2);
linearXLabels(p2);
linearYLabels(p2);
label(p2.g, "_018-Cells", 536, 33, 16);
label(p2.g, "Singlets", 645, 168, 16, { fill: "#ddd" });
label(p2.g, "SSC-W", 601, 365, 15.5, { anchor: "middle" });
label(p2.g, "FSC-A", 421.5, 177, 15.5, { anchor: "middle", rotate: true });
label(p2.g, "(x 1,000)", 701, 359, 12.5);
label(p2.g, "(x 1,000)", 421, 63, 12.5, { anchor: "middle", rotate: true });

// bottom left panel
const x3 = d3.scaleLinear().domain(logDomain).range(logX3);
const y3 = d3.scaleLinear().domain([0, 262.144]).range(linearY3);
const p3 = panel("singlets", [8.5, 389.5, 368.5, 380], x3, y3);
shape(p3, greenSolid, "#00ff00", "#00ff00", 1);
dots(p3, flatten(greenRows), "#00ff00", 2.2);
shape(p3, pinkSolid, "#f060f0", "#f060f0", 1);
dots(p3, flatten(pinkRows), "#e868ec", 1.9);
shape(p3, greenOuter, "#000", "#20d020", 1, d3.curveCatmullRomClosed);
greenContours.forEach(c => shape(p3, c, "none", "#26c426", 1.2, d3.curveCatmullRomClosed));
pinkContours.forEach((c, i) => shape(p3, c, i === 0 ? "#000" : "none", "#d050d0", 1.2, d3.curveCatmullRomClosed));
shape(p3, cd8Gate, "none", "#e4e4e4", 1.5);
tickSet(p3, d3.axisLeft(y3), "translate(" + p3.left + ",0)", d3.range(10, 262, 10).filter(v => v % 50 !== 0), 6);
tickSet(p3, d3.axisLeft(y3), "translate(" + p3.left + ",0)", linearLabels, 10);
linearYLabels(p3);
logXAxis(p3, -1);
label(p3.g, "_018-Singlets", 141, 415, 16);
label(p3.g, "CD8+", 296, 494, 16, { fill: "#ddd" });
label(p3.g, "CD8 FITC-A", 216, 748, 15.5, { anchor: "middle" });
label(p3.g, "SSC-A", 38, 560, 15.5, { anchor: "middle", rotate: true });
label(p3.g, "(x 1,000)", 36, 445, 12.5, { anchor: "middle", rotate: true });

// bottom right panel
const x4 = d3.scaleLinear().domain(logDomain).range(logX4);
const y4 = d3.scaleLinear().domain(logYDomain).range(logY4);
const p4 = panel("cd8", [393.5, 390, 380, 380], x4, y4);
dots(p4, flatten(cd8Rows), "#e060e8", 1.9);
shape(p4, cd8Outer, "#000", "#e060e0", 1.3, d3.curveCatmullRomClosed);
cd8Contours.forEach(c => shape(p4, c, "none", "#dc5cdc", 1.2, d3.curveCatmullRomClosed));
const lines4 = p4.marks.append("g");
lines4.append("line").attr("x1", x4(1)).attr("x2", x4(1)).attr("y1", y4(5.42)).attr("y2", y4(-0.02)).attr("stroke", "#555");
lines4.append("line").attr("x1", x4(-1.21)).attr("x2", x4(5.42)).attr("y1", y4(1)).attr("y2", y4(1)).attr("stroke", "#555");
lines4.append("line").attr("x1", x4(cd3Line)).attr("x2", x4(cd3Line)).attr("y1", y4(5.42)).attr("y2", y4(-0.02)).attr("stroke", "#eee").attr("stroke-width", 1.2);
lines4.append("line").attr("x1", x4(-1.21)).attr("x2", x4(5.42)).attr("y1", y4(tetramerLine)).attr("y2", y4(tetramerLine)).attr("stroke", "#ccc").attr("stroke-width", 1.2);
const left4 = "translate(" + p4.left + ",0)";
tickSet(p4, d3.axisLeft(y4), left4, minorDecades, 5);
tickSet(p4, d3.axisLeft(y4), left4, nearZeroY, 5);
tickSet(p4, d3.axisLeft(y4), left4, [2, 3, 4, 5], 10);
tickSet(p4, d3.axisLeft(y4), left4, [1], 12).selectAll("line").attr("stroke-width", 2);
tickSet(p4, d3.axisLeft(y4), left4, [0], 10);
logXAxis(p4, 0);
decadeLabels.forEach(k => {
  const t = label(p4.g, "10", 437, y4(k) + 5.5, 11.5, { rotate: true });
  t.append("tspan").attr("dy", -8).attr("dx", 1).text(k);
});
label(p4.g, "0", 437, y4(1), 11.5, { anchor: "middle", rotate: true });
label(p4.g, "-102", 425, 699, 11.5, { anchor: "middle", rotate: true });
label(p4.g, "_018-CD8+", 534, 416, 16);
label(p4.g, "Tetramer+/CD+", 640, 452, 16, { fill: "#ddd" });
label(p4.g, "Tetramer+", 498, 539, 16, { fill: "#ddd" });
label(p4.g, "Q3-1", 516, 611, 16, { fill: "#ddd" });
label(p4.g, "CD+", 603, 611, 16, { fill: "#ddd" });
label(p4.g, "CD3 PE-Cy7-A", 601, 748, 15.5, { anchor: "middle" });
label(p4.g, "TETRAMER APC-A", 417.5, 560, 15.5, { anchor: "middle", rotate: true });
</script>
</body>
</html>
